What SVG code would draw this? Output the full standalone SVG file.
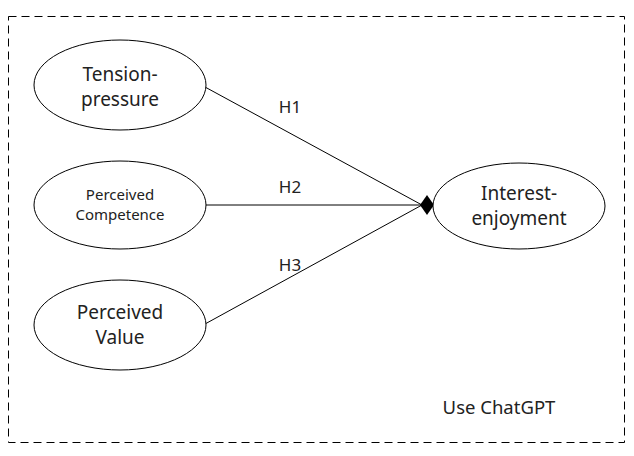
<svg xmlns="http://www.w3.org/2000/svg" width="634" height="456" viewBox="0 0 634 456">
<style>
text{font-family:"Noto Sans","Open Sans",sans-serif;fill:#222;text-anchor:middle}
.n ellipse{fill:#fff;stroke:#000;stroke-width:1}
.big{font-size:19px}
.small{font-size:15px}
.lbl{font-size:17px}
.conn line{stroke:#000;stroke-width:1}
</style>
<rect x="8.5" y="16.5" width="616" height="426" fill="none" stroke="#000" stroke-width="1" stroke-dasharray="8,5"/>
<g class="conn">
<line x1="205" y1="87" x2="422" y2="205"/>
<line x1="205" y1="205" x2="422" y2="205"/>
<line x1="205" y1="324" x2="422" y2="205"/>
<path d="M420,205 L427,195 L434,205 L427,215 Z" fill="#000"/>
</g>
<g class="n" id="tension"><ellipse cx="120" cy="85" rx="86" ry="45"/><text class="big" x="120" y="81">Tension-</text><text class="big" x="120" y="106">pressure</text></g>
<g class="n" id="competence"><ellipse cx="120" cy="205" rx="86" ry="44"/><text class="small" x="120" y="200">Perceived</text><text class="small" x="120" y="220">Competence</text></g>
<g class="n" id="value"><ellipse cx="120" cy="325" rx="86" ry="45"/><text class="big" x="120" y="319">Perceived</text><text class="big" x="120" y="344">Value</text></g>
<g class="n" id="interest"><ellipse cx="519" cy="206" rx="86" ry="43"/><text class="big" x="519" y="200">Interest-</text><text class="big" x="519" y="225">enjoyment</text></g>
<text class="lbl" x="290" y="113">H1</text>
<text class="lbl" x="290" y="193">H2</text>
<text class="lbl" x="290" y="271">H3</text>
<text class="lbl" x="499" y="414" style="font-size:18.5px">Use ChatGPT</text>
</svg>
